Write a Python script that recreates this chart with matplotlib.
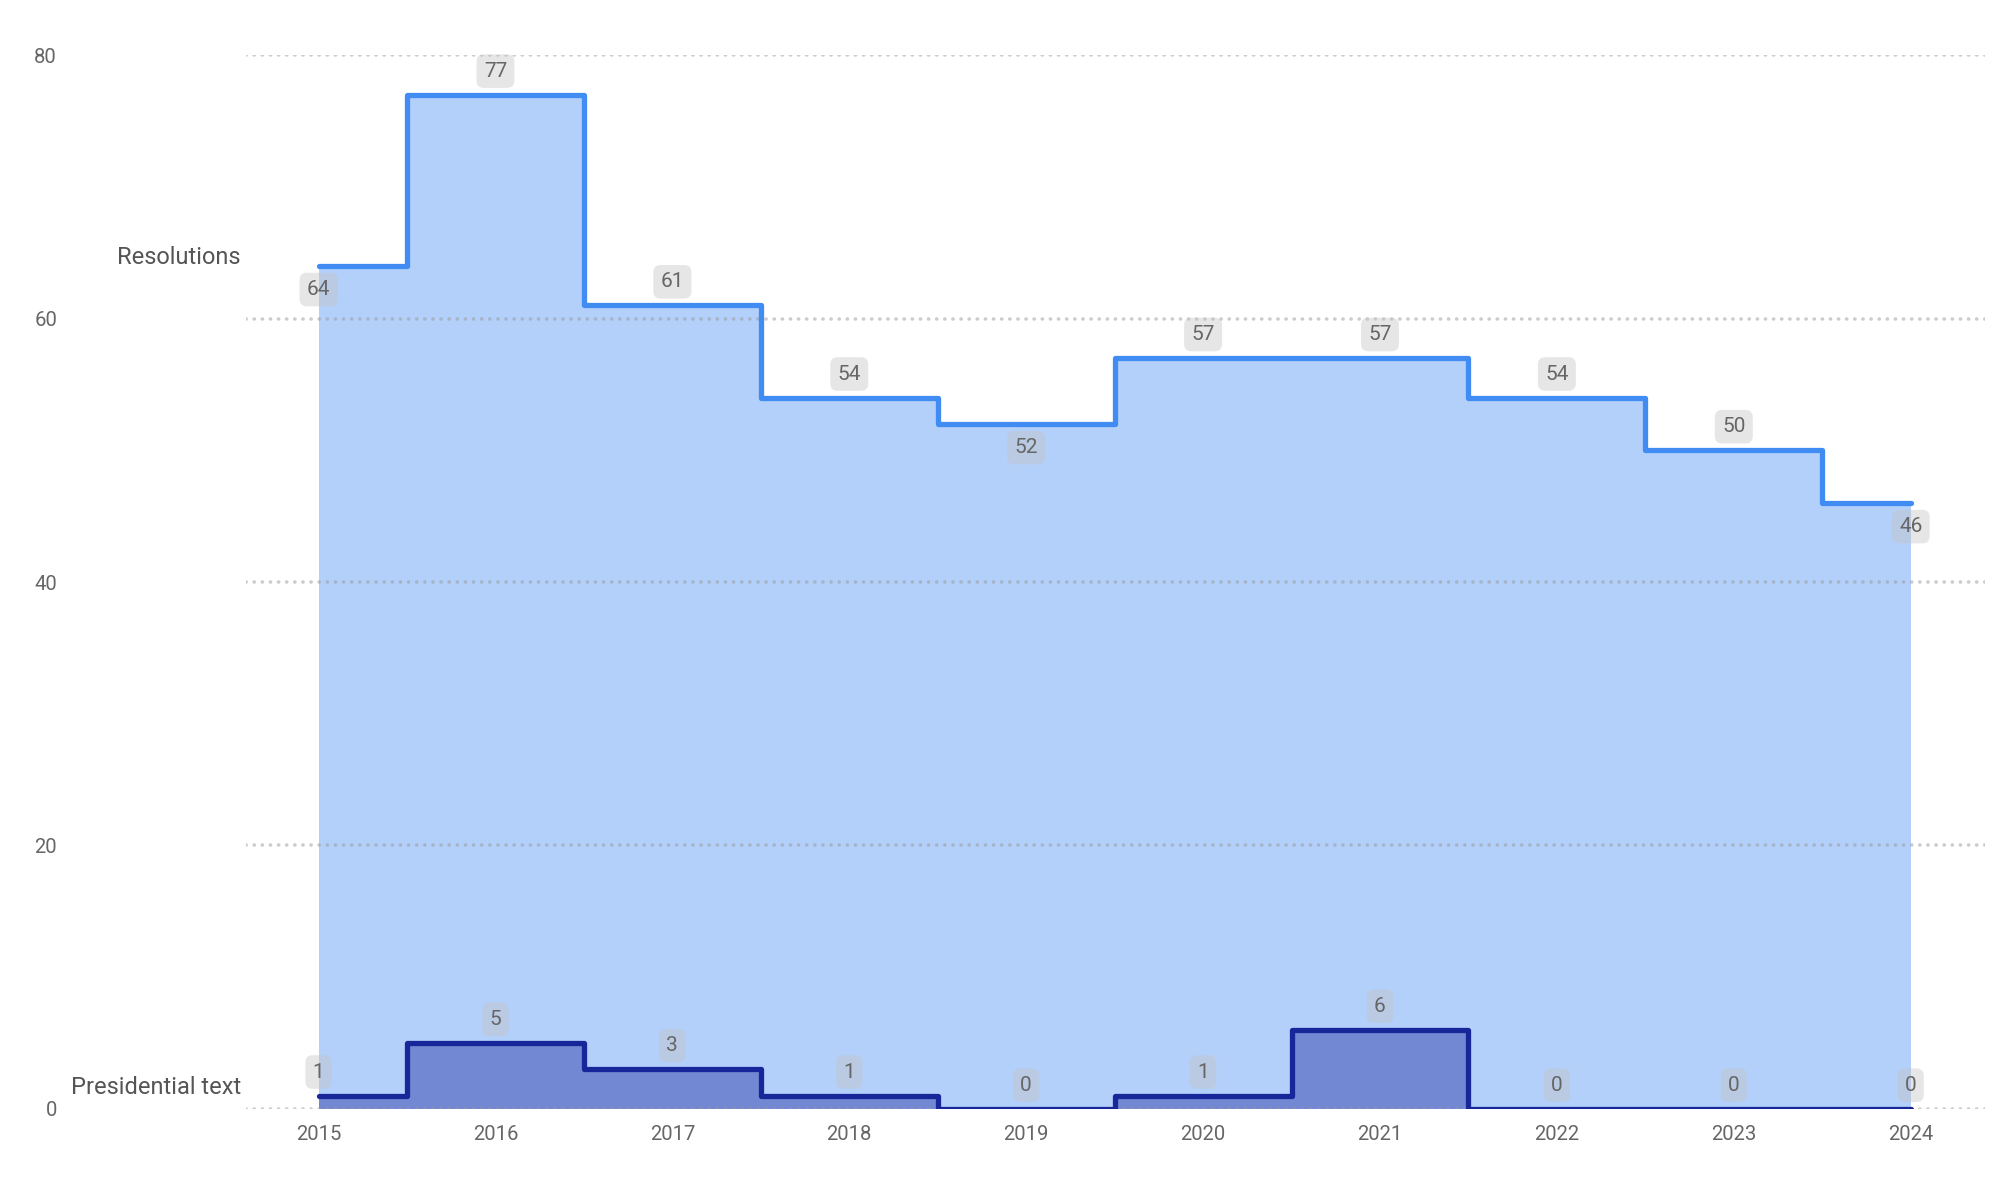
import matplotlib.pyplot as plt
import numpy as np

years = [2015, 2016, 2017, 2018, 2019, 2020, 2021, 2022, 2023, 2024]
resolutions = [64, 77, 61, 54, 52, 57, 57, 54, 50, 46]
presidential = [1, 5, 3, 1, 0, 1, 6, 0, 0, 0]
y_ticks = [0, 20, 40, 60, 80]

RES_LINE = '#418CF2'
RES_FILL = '#B3D0FA'
PRES_LINE = '#17279A'
PRES_FILL = '#7388D3'
TXT = '#666666'

plt.rcParams['font.family'] = ['Roboto', 'DejaVu Sans']

fig = plt.figure(figsize=(10, 6), dpi=200)
ax = fig.add_axes([0.123, 0.076, 0.8695, 0.878])

x = np.array(years)
ax.fill_between(x, resolutions, step='mid', color=RES_FILL, lw=0, zorder=1)
ax.fill_between(x, presidential, step='mid', color=PRES_FILL, lw=0, zorder=1.2)
ax.step(x, resolutions, where='mid', color=RES_LINE, lw=1.9, zorder=3,
        solid_capstyle='round', solid_joinstyle='round')
ax.step(x, presidential, where='mid', color=PRES_LINE, lw=1.9, zorder=3.1,
        solid_capstyle='round', solid_joinstyle='round')


def put_label(yr, v, off):
    ax.annotate(str(v), (yr, v), xytext=(0, off), textcoords='offset points',
                ha='center', va='center', fontsize=7.5, color=TXT, zorder=5,
                bbox=dict(boxstyle='round,pad=0.35,rounding_size=0.35',
                          fc='#C4C4C4', ec='none', alpha=0.42))


# resolutions: label goes under the line at local minima
for i, (yr, v) in enumerate(zip(years, resolutions)):
    nbrs = [resolutions[j] for j in (i - 1, i + 1) if 0 <= j < len(resolutions)]
    below = all(v < n for n in nbrs)
    put_label(yr, v, -8.5 if below else 8.5)

# presidential labels all sit above the line
for yr, v in zip(years, presidential):
    put_label(yr, v, 8.5)

# series names left of the first point
ax.annotate('Resolutions', (years[0], resolutions[0]), xytext=(-28, 3),
            textcoords='offset points', ha='right', va='center',
            fontsize=8.5, color='#555555', annotation_clip=False)
ax.annotate('Presidential text', (years[0], presidential[0]), xytext=(-28, 3),
            textcoords='offset points', ha='right', va='center',
            fontsize=8.5, color='#555555', annotation_clip=False)

ax.set_xlim(2014.59, 2024.42)
ax.set_ylim(0, 80)
ax.set_xticks(years)
ax.set_xticklabels([str(y) for y in years])
ax.set_yticks(y_ticks)
ax.yaxis.grid(True, color='#9A9A9A', alpha=0.5, lw=1.3, linestyle=(0, (0.05, 2.2)),
              dash_capstyle='round', zorder=2.5)
ax.xaxis.grid(False)
ax.set_axisbelow(False)
for s in ax.spines.values():
    s.set_visible(False)
ax.tick_params(axis='both', length=0, labelsize=7.3, labelcolor=TXT)
ax.tick_params(axis='y', pad=68)
ax.tick_params(axis='x', pad=6)

fig.savefig('out.png', dpi=200, facecolor='white')
